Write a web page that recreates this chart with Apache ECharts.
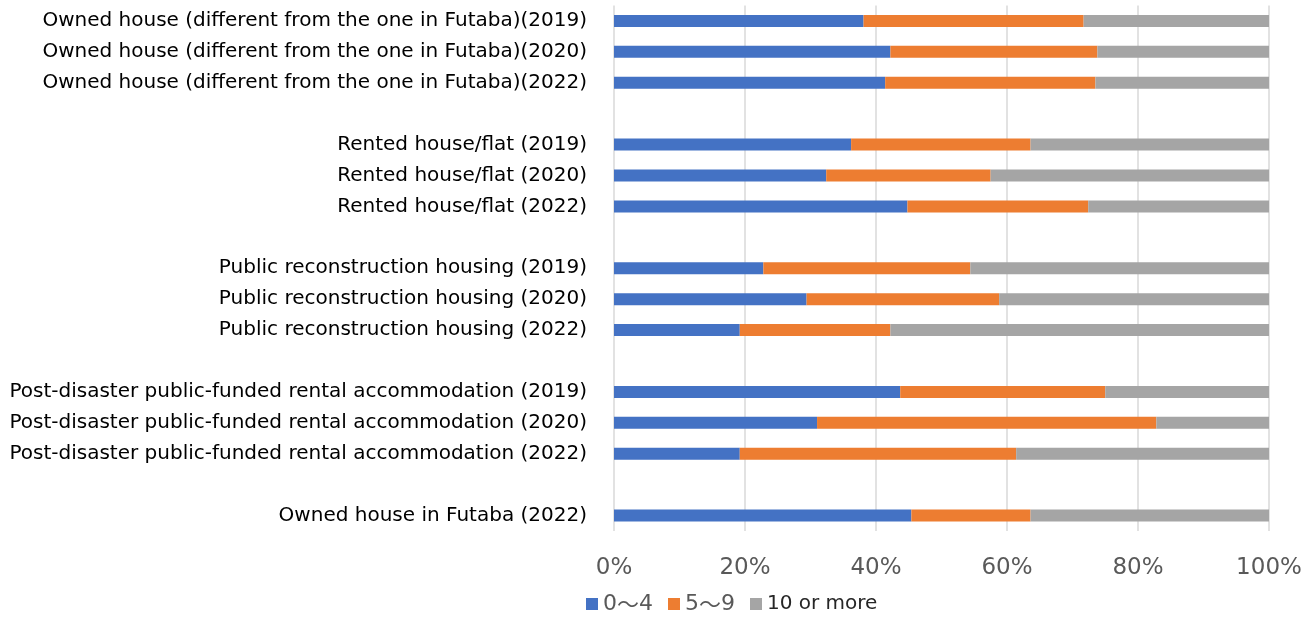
<!DOCTYPE html>
<html>
<head>
<meta charset="utf-8">
<script src="https://cdn.jsdelivr.net/npm/echarts@6/dist/echarts.min.js"></script>
<style>
html,body{margin:0;padding:0;background:#fff;}
#chart{width:1313px;height:617px;}
</style>
</head>
<body>
<div id="chart"></div>
<script>
const categories = [
  'Owned house (different from the one in Futaba)(2019)',
  'Owned house (different from the one in Futaba)(2020)',
  'Owned house (different from the one in Futaba)(2022)',
  '',
  'Rented house/flat (2019)',
  'Rented house/flat (2020)',
  'Rented house/flat (2022)',
  ' ',
  'Public reconstruction housing (2019)',
  'Public reconstruction housing (2020)',
  'Public reconstruction housing (2022)',
  '  ',
  'Post-disaster public-funded rental accommodation (2019)',
  'Post-disaster public-funded rental accommodation (2020)',
  'Post-disaster public-funded rental accommodation (2022)',
  '   ',
  'Owned house in Futaba (2022)'
];
const seriesNames = ['0～4', '5～9', '10 or more'];
const values0to4 = [38.1, 42.2, 41.4, null, 36.2, 32.4, 44.8, null, 22.8, 29.4, 19.2, null, 43.7, 31.0, 19.2, null, 45.4];
const values5to9 = [33.6, 31.6, 32.1, null, 27.4, 25.1, 27.6, null, 31.6, 29.4, 23.0, null, 31.3, 51.8, 42.2, null, 18.2];
const values10plus = [28.3, 26.2, 26.5, null, 36.4, 42.5, 27.6, null, 45.6, 41.2, 57.8, null, 25.0, 17.2, 38.6, null, 36.4];
const xTicks = [0, 20, 40, 60, 80, 100];

const FONT = 'DejaVu Sans';
const colors = ['#4472C4', '#ED7D31', '#A5A5A5'];
const allValues = [values0to4, values5to9, values10plus];

const chart = echarts.init(document.getElementById('chart'), null, {renderer: 'canvas'});
chart.setOption({
  animation: false,
  textStyle: {fontFamily: FONT},
  grid: {left: 614, right: 44, top: 5.5, bottom: 86, containLabel: false},
  legend: {
    data: [
      {name: seriesNames[0]},
      {name: seriesNames[1]},
      {name: seriesNames[2], textStyle: {color: '#262626', fontSize: 20, fontFamily: FONT}}
    ],
    left: 581, top: 588,
    icon: 'rect', itemWidth: 12, itemHeight: 12, itemGap: 15,
    formatter: n => n.replace('～', '{t|～}'),
    textStyle: {
      fontFamily: FONT, fontSize: 22, color: '#595959',
      rich: {t: {fontFamily: 'Noto Sans CJK JP', fontSize: 22, color: '#595959'}}
    }
  },
  xAxis: {
    type: 'value', min: 0, max: 100, interval: 20,
    axisLine: {show: false}, axisTick: {show: false},
    splitLine: {lineStyle: {color: '#D9D9D9', width: 1.5}},
    axisLabel: {
      fontFamily: FONT, fontSize: 23, color: '#595959', margin: 26,
      formatter: v => xTicks.indexOf(v) >= 0 ? v + '%' : ''
    }
  },
  yAxis: {
    type: 'category', inverse: true, data: categories,
    axisLine: {show: false}, axisTick: {show: false},
    axisLabel: {fontFamily: FONT, fontSize: 20, color: '#000', margin: 27}
  },
  series: seriesNames.map((n, i) => ({
    name: n, type: 'bar', stack: 'total', barWidth: 12,
    itemStyle: {color: colors[i]},
    data: allValues[i]
  }))
});
</script>
</body>
</html>
